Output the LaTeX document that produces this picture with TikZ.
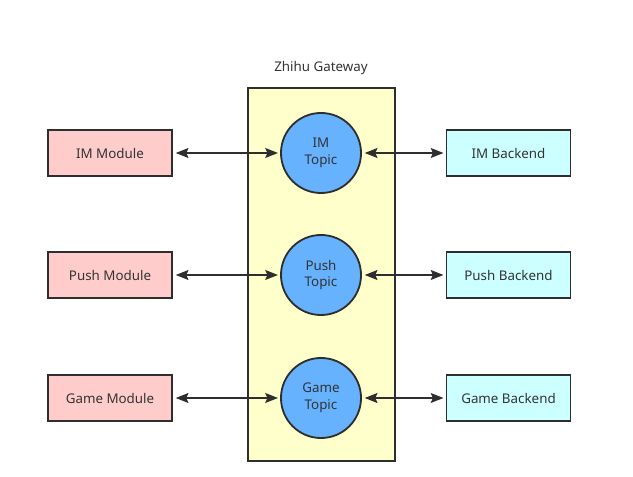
\documentclass[tikz,border=0pt]{standalone}
\usepackage{fontspec}
\setmainfont{Noto Sans}
\usetikzlibrary{arrows.meta}

\definecolor{lineGray}{HTML}{2E2E2E}
\definecolor{textGray}{HTML}{333333}
\definecolor{gateYellow}{HTML}{FFFFCC}
\definecolor{modPink}{HTML}{FFCCCC}
\definecolor{backCyan}{HTML}{CCFFFF}
\definecolor{topicBlue}{HTML}{66B2FF}

\begin{document}
\begin{tikzpicture}[x=0.025cm, y=-0.025cm,
		every node/.style={font=\fontsize{9.5}{11}\selectfont, text=textGray},
		box/.style={draw=lineGray, line width=1.3pt, minimum width=3.1cm, minimum height=1.15cm, inner sep=0pt},
		module/.style={box, fill=modPink},
		backend/.style={box, fill=backCyan},
		topic/.style={circle, draw=lineGray, line width=1.3pt, fill=topicBlue, minimum size=2cm, inner sep=0pt, align=center, font=\fontsize{9.5}{12}\selectfont},
		link/.style={draw=lineGray, line width=1.3pt, {Stealth[length=9pt, width=7pt, inset=1.5pt]}-{Stealth[length=9pt, width=7pt, inset=1.5pt]}, shorten <=2pt, shorten >=1.5pt}]
	\useasboundingbox (0,0) rectangle (633,477);

	% gateway
	\node[draw=lineGray, line width=1.3pt, fill=gateYellow, minimum width=3.675cm, minimum height=9.325cm, inner sep=0pt] (gateway) at (321.5,274.5) {};
	\node (gatelabel) at (321,68) {Zhihu Gateway};

	\node[module] (immod) at (110,153) {IM Module};
	\node[module] (pushmod) at (110,275) {Push Module};
	\node[module] (gamemod) at (110,398) {Game Module};

	\node[topic] (imtopic) at (321,153) {IM\\Topic};
	\node[topic] (pushtopic) at (321,275) {Push\\Topic};
	\node[topic] (gametopic) at (321,398) {Game\\Topic};

	\node[backend] (imback) at (508.5,153) {IM Backend};
	\node[backend] (pushback) at (508.5,275) {Push Backend};
	\node[backend] (gameback) at (508.5,398) {Game Backend};

	\draw[link] (immod) -- (imtopic);
	\draw[link] (imtopic) -- (imback);
	\draw[link] (pushmod) -- (pushtopic);
	\draw[link] (pushtopic) -- (pushback);
	\draw[link] (gamemod) -- (gametopic);
	\draw[link] (gametopic) -- (gameback);
\end{tikzpicture}
\end{document}
